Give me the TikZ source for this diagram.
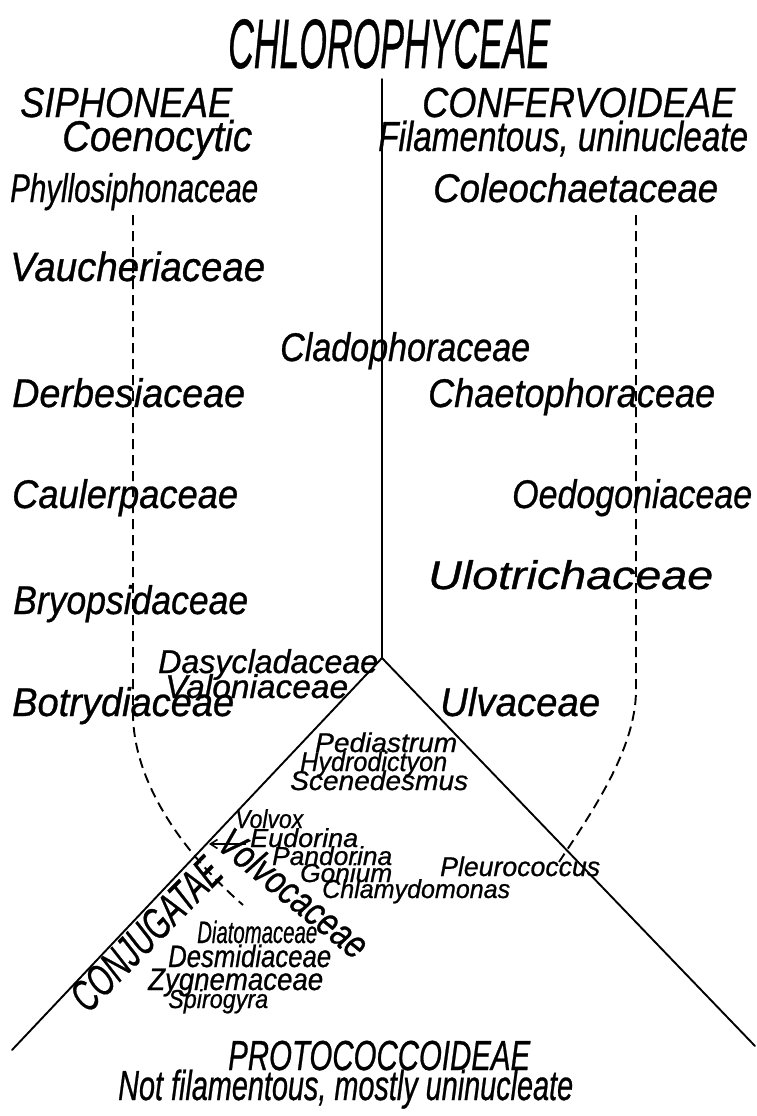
\documentclass[tikz,border=0pt]{standalone}
\usepackage{fontspec}
\usepackage{graphicx}
\setmainfont{Liberation Sans}
\newfontfamily\hand{Liberation Sans Italic}[FakeBold=0.8]
\usetikzlibrary{arrows.meta}
\newcommand{\lbl}[3]{\resizebox{#1pt}{\height}{\fontsize{#2}{#2}\selectfont\hand #3}}
\tikzset{
  txt/.style={inner sep=0pt, anchor=base west},
  rtxt/.style={inner sep=0pt, anchor=center},
  solidline/.style={line width=1.9pt, line cap=round},
  dashline/.style={line width=1.9pt, dash pattern=on 10pt off 6pt},
}
\begin{document}
\begin{tikzpicture}[x=1pt,y=-1pt]
\useasboundingbox (0,0) rectangle (757,1116);
% headings
\node[txt] (title) at (228,68) {\lbl{322}{70}{CHLOROPHYCEAE}};
\node[txt] (siph) at (20,117) {\lbl{212}{42}{SIPHONEAE}};
\node[txt] (coen) at (62,151) {\lbl{190}{43}{Coenocytic}};
\node[txt] (conf) at (422,117) {\lbl{313}{42}{CONFERVOIDEAE}};
\node[txt] (fil) at (378,151) {\lbl{370}{42}{Filamentous, uninucleate}};
% left column
\node[txt] (phyl) at (10,202) {\lbl{248}{40}{Phyllosiphonaceae}};
\node[txt] (vauc) at (10,281) {\lbl{255}{41}{Vaucheriaceae}};
\node[txt] (derb) at (12,407) {\lbl{233}{40}{Derbesiaceae}};
\node[txt] (caul) at (12,508) {\lbl{226}{40}{Caulerpaceae}};
\node[txt] (bryo) at (13,614) {\lbl{235}{40}{Bryopsidaceae}};
\node[txt] (botr) at (12,716) {\lbl{222}{40}{Botrydiaceae}};
\node[txt] (dasy) at (158,673) {\lbl{220}{33}{Dasycladaceae}};
\node[txt] (valo) at (165,698) {\lbl{183}{33}{Valoniaceae}};
% middle / right column
\node[txt] (clad) at (280,361) {\lbl{250}{40}{Cladophoraceae}};
\node[txt] (cole) at (433,202) {\lbl{285}{40}{Coleochaetaceae}};
\node[txt] (chae) at (428,407) {\lbl{287}{40}{Chaetophoraceae}};
\node[txt] (oedo) at (512,508) {\lbl{240}{40}{Oedogoniaceae}};
\node[txt] (ulot) at (428,589) {\lbl{285}{40}{Ulotrichaceae}};
\node[txt] (ulva) at (440,716) {\lbl{160}{40}{Ulvaceae}};
% triangle contents
\node[txt] (pedi) at (315,752) {\lbl{142}{27}{Pediastrum}};
\node[txt] (hydr) at (300,771) {\lbl{147}{27}{Hydrodictyon}};
\node[txt] (scen) at (290,790) {\lbl{178}{27}{Scenedesmus}};
\node[txt] (volv) at (235,828) {\lbl{68}{26}{Volvox}};
\node[txt] (eudo) at (250,847) {\lbl{108}{26}{Eudorina}};
\node[txt] (pand) at (272,865) {\lbl{120}{26}{Pandorina}};
\node[txt] (goni) at (300,882) {\lbl{92}{26}{Gonium}};
\node[txt] (chla) at (322,898) {\lbl{188}{26}{Chlamydomonas}};
\node[txt] (pleu) at (440,876) {\lbl{160}{27}{Pleurococcus}};
\node[rtxt, rotate=-39] (volvoc) at (294,893) {\lbl{180}{40}{Volvocaceae}};
\node[rtxt, rotate=45.4] (conj) at (146,934) {\lbl{195}{44}{CONJUGATAE}};
\node[txt] (diat) at (197,943) {\lbl{120}{31}{Diatomaceae}};
\node[txt] (desm) at (168,967) {\lbl{163}{31}{Desmidiaceae}};
\node[txt] (zygn) at (148,990) {\lbl{175}{31}{Zygnemaceae}};
\node[txt] (spir) at (168,1008) {\lbl{100}{26}{Spirogyra}};
\node[txt] (prot) at (228,1070) {\lbl{302}{42}{PROTOCOCCOIDEAE}};
\node[txt] (notf) at (118,1100) {\lbl{455}{42}{Not filamentous, mostly uninucleate}};
% structural coordinates
\coordinate (top) at (382,79);
\coordinate (apex) at (382,658);
\coordinate (lend) at (12,1050);
\coordinate (rend) at (755,1046);
\coordinate (ldtop) at (133,215);
\coordinate (ldturn) at (133,713);
\coordinate (ldend) at (243,905);
\coordinate (rdtop) at (636,215);
\coordinate (rdturn) at (636,690);
\coordinate (rdend) at (557,865);
\coordinate (arrstart) at (246,844);
\coordinate (arrtip) at (209,844);
% lines
\draw[solidline] (top) -- (apex);
\draw[solidline] (apex) -- (lend);
\draw[solidline] (apex) -- (rend);
\draw[dashline] (ldtop) -- (ldturn) .. controls (133,780) and (180,850) .. (ldend);
\draw[dashline] (rdtop) -- (rdturn) .. controls (636,750) and (590,815) .. (rdend);
\draw[line width=1.6pt, -{Straight Barb[length=7pt,width=9pt]}] (arrstart) -- (arrtip);
\end{tikzpicture}
\end{document}
